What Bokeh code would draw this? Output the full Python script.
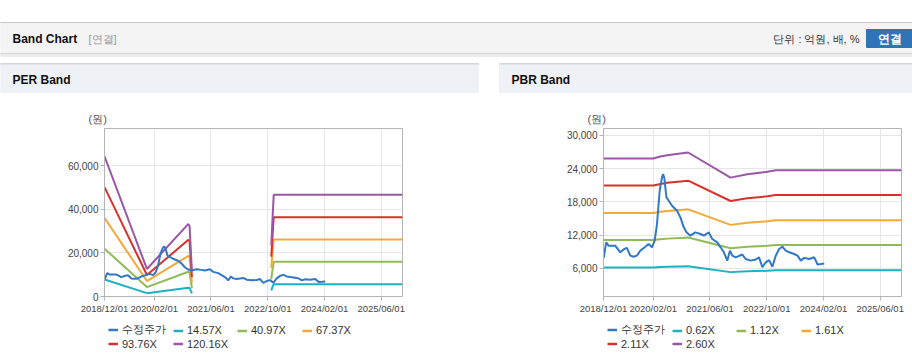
import numpy as np
import pandas as pd
from bokeh.plotting import figure
from bokeh.models import (Range1d, FixedTicker, DatetimeTickFormatter, NumeralTickFormatter,
                          Legend, LegendItem, Spacer)
from bokeh.layouts import column, row
from bokeh.embed import file_html
from bokeh.resources import INLINE
from bokeh.core.properties import value

FONT = "Liberation Sans"
NAN = float("nan")

# ---------------- data ----------------
x_start = "2018-12-01"
x_end = "2025-12-01"
x_ticks = ["2018-12-01", "2020-02-01", "2021-06-01", "2022-10-01", "2024-02-01", "2025-06-01"]

price_label = "수정주가"
price_dates = ["2018-12-03", "2018-12-24", "2019-01-13", "2019-03-11", "2019-04-24", "2019-05-28",
               "2019-06-20", "2019-07-19", "2019-08-16", "2019-09-14", "2019-10-13", "2019-11-25",
               "2019-12-23", "2020-01-21", "2020-02-13", "2020-03-04", "2020-03-27", "2020-04-16",
               "2020-04-25", "2020-05-06", "2020-05-24", "2020-06-13", "2020-07-11", "2020-08-23",
               "2020-09-21", "2020-10-20", "2020-11-12", "2020-12-16", "2021-01-28", "2021-03-12",
               "2021-04-10", "2021-05-23", "2021-06-21", "2021-08-03", "2021-09-01", "2021-09-29",
               "2021-10-28", "2021-11-20", "2021-12-10", "2022-01-08", "2022-03-06", "2022-04-04",
               "2022-05-17", "2022-06-29", "2022-07-28", "2022-08-25", "2022-09-23", "2022-10-22",
               "2022-11-19", "2022-12-18", "2023-01-16", "2023-02-13", "2023-03-14", "2023-04-12",
               "2023-05-25", "2023-06-23", "2023-07-21", "2023-08-19", "2023-10-01", "2023-11-13",
               "2023-12-12", "2024-01-10", "2024-02-07"]
price = [7900, 10700, 10100, 10100, 8900, 9500, 9700, 8300, 8100, 8300, 9200, 9900,
         10400, 9800, 11000, 14000, 20000, 22400, 23000, 22300, 18800, 18200, 17300, 16400,
         15200, 13400, 12500, 11900, 12500, 12200, 11900, 12500, 11300, 10700, 9800, 8900,
         7400, 9200, 8300, 8000, 8500, 7700, 7400, 7600, 8000, 6200, 7100, 7500,
         6300, 8300, 9500, 9900, 9200, 8900, 8600, 8300, 7400, 7900, 7700, 8000,
         6700, 6800, 6900]

per_labels = ["14.57X", "40.97X", "67.37X", "93.76X", "120.16X"]
per_dates = ["2018-12-01", "2019-11-30", "2020-11-20", "2020-11-30", "2020-12-20",
             "2021-12-01", "2022-11-01", "2022-11-12", "2022-11-22", "2025-12-01"]
per_14_57 = [7795, 1530, 4036, 3905, 1384, NAN, 2841, 4371, 5653, 5653]
per_40_97 = [21920, 4302, 11350, 10980, 3892, NAN, 7989, 12290, 15900, 15900]
per_67_37 = [36040, 7074, 18660, 18060, 6400, NAN, 13140, 20210, 26140, 26140]
per_93_76 = [50160, 9845, 25970, 25130, 8907, NAN, 18280, 28130, 36380, 36380]
per_120_16 = [64290, 12620, 33280, 32200, 11420, NAN, 23430, 36050, 46620, 46620]
per_yticks = [0, 20000, 40000, 60000]

pbr_labels = ["0.62X", "1.12X", "1.61X", "2.11X", "2.60X"]
pbr_dates = ["2018-12-01", "2020-02-01", "2020-04-02", "2020-06-01", "2020-09-20", "2020-11-26",
             "2021-11-25", "2022-04-18", "2022-10-07", "2022-12-18", "2025-12-01"]
pbr_0_62 = [6152, 6152, 6237, 6293, 6367, 6411, 5332, 5481, 5580, 5648, 5648]
pbr_1_12 = [11114, 11114, 11267, 11368, 11502, 11581, 9632, 9901, 10080, 10203, 10203]
pbr_1_61 = [15976, 15976, 16197, 16342, 16535, 16647, 13846, 14232, 14490, 14667, 14667]
pbr_2_11 = [20938, 20938, 21227, 21417, 21670, 21817, 18146, 18652, 18990, 19222, 19222]
pbr_2_60 = [25800, 25800, 26156, 26390, 26702, 26884, 22360, 22984, 23400, 23686, 23686]
pbr_yticks = [6000, 12000, 18000, 24000, 30000]

band_colors = ["#1db1c4", "#8fbb57", "#f3a83b", "#d6322b", "#9a57a6"]
price_color = "#3178c6"


def dt(lst):
    return pd.to_datetime(lst)


def ms(s):
    return pd.Timestamp(s).value / 1e6


def plain(f):
    f.axis.visible = False
    f.grid.visible = False
    f.outline_line_color = None
    f.background_fill_color = "white"
    f.border_fill_color = "white"
    return f


# ---------------- header + panel title bars (one decorative figure) ----------------
hdr = plain(figure(width=912, height=93, x_range=Range1d(0, 912), y_range=Range1d(93, 0),
                   output_backend="svg", toolbar_location=None, min_border=0))

hdr.quad(left=[0], right=[912], top=[22], bottom=[23], color="#c8c8c8")
hdr.quad(left=[0], right=[912], top=[23], bottom=[53], color="#f4f4f4")
hdr.quad(left=[0], right=[912], top=[53], bottom=[54], color="#d4d4d4")
hdr.quad(left=[0], right=[912], top=[54], bottom=[56], color="#ececec")
hdr.text(x=[12], y=[38.5], text=["Band Chart"], text_font=value(FONT), text_font_size="12px",
         text_font_style="bold", text_baseline="middle", text_color="#111111")
hdr.text(x=[88], y=[38.5], text=["[연결]"], text_font=value(FONT), text_font_size="11px",
         text_baseline="middle", text_color="#999999")
hdr.text(x=[859], y=[38.5], text=["단위 : 억원, 배, %"], text_font=value(FONT), text_font_size="11px",
         text_baseline="middle", text_align="right", text_color="#333333")
hdr.quad(left=[866], right=[912], top=[29], bottom=[47], color="#2f73b8")
hdr.text(x=[889], y=[38.5], text=["연결"], text_font=value(FONT), text_font_size="12px",
         text_font_style="bold", text_baseline="middle", text_align="center", text_color="white")

for x0, x1, label in [(0, 478, "PER Band"), (499, 912, "PBR Band")]:
    hdr.quad(left=[x0], right=[x1], top=[63], bottom=[64.5], color="#d6d6d6")
    hdr.quad(left=[x0], right=[x1], top=[64.5], bottom=[93], color="#eef2f7")
    hdr.text(x=[x0 + 12], y=[79.5], text=[label], text_font=value(FONT), text_font_size="12px",
             text_font_style="bold", text_baseline="middle", text_color="#111111")


# ---------------- charts ----------------
def chart(width, br, yr, yticks, band_dates, bands):
    p = figure(width=width, height=225, x_axis_type="datetime",
               x_range=Range1d(dt([x_start])[0], dt([x_end])[0]), y_range=Range1d(*yr),
               frame_width=298, frame_height=168,
               min_border_left=104, min_border_right=br, min_border_top=35, min_border_bottom=22,
               output_backend="svg", toolbar_location=None, title="(원)")
    p.background_fill_color = "white"
    p.border_fill_color = "white"
    p.outline_line_color = "#b5b5b5"
    p.title.align = "left"
    p.title.offset = -16
    p.title.text_font = FONT
    p.title.text_font_size = "11px"
    p.title.text_font_style = "normal"
    p.title.text_color = "#555555"
    p.title.standoff = 7

    p.xaxis.ticker = FixedTicker(ticks=[ms(t) for t in x_ticks])
    fmt = "%Y/%m/%d"
    p.xaxis.formatter = DatetimeTickFormatter(microseconds=fmt, milliseconds=fmt, seconds=fmt,
                                              minsec=fmt, minutes=fmt, hourmin=fmt, hours=fmt,
                                              days=fmt, months=fmt, years=fmt)
    p.yaxis.ticker = FixedTicker(ticks=yticks)
    p.yaxis.formatter = NumeralTickFormatter(format="0,0")
    for ax in (p.xaxis[0], p.yaxis[0]):
        ax.axis_line_color = "#b5b5b5"
        ax.major_tick_line_color = "#b5b5b5"
        ax.major_tick_out = 4
        ax.major_tick_in = 0
        ax.minor_tick_line_color = None
        ax.major_label_text_font = FONT
        ax.major_label_text_color = "#444444"
    p.xaxis.major_label_text_font_size = "9.5px"
    p.yaxis.major_label_text_font_size = "10px"
    p.xaxis.major_label_standoff = 2
    p.yaxis.major_label_standoff = 2
    p.grid.grid_line_color = "#e6e6e6"

    bd = dt(band_dates)
    for vals, c in zip(bands, band_colors):
        p.line(bd, np.array(vals, dtype=float), line_color=c, line_width=2)
    p.line(dt(price_dates), price, line_color=price_color, line_width=2)
    return p


def legend_fig(width, br, labels, band_dates, bands):
    # legend-only strip: the series are re-plotted here outside the visible range so that
    # each legend entry has a renderer with data; only the legend itself shows.
    f = plain(figure(width=width, height=45, x_range=Range1d(0, 1), y_range=Range1d(0, 1),
                     frame_width=298, frame_height=45,
                     min_border_left=104, min_border_right=br, min_border_top=0, min_border_bottom=0,
                     output_backend="svg", toolbar_location=None))
    names = [price_label] + labels
    colors = [price_color] + band_colors
    series = [(dt(price_dates), price)] + [(dt(band_dates), np.array(b, dtype=float)) for b in bands]
    slots = [(4, 26.5), (69, 26.5), (133, 26.5), (198, 26.5), (4, 13), (69, 13)]
    for name, c, (xs, ys), loc in zip(names, colors, series, slots):
        r = f.line(xs, ys, line_color=c, line_width=2.5)
        leg = Legend(items=[LegendItem(label=name, renderers=[r])], location=loc,
                     orientation="horizontal", glyph_width=10, glyph_height=13, label_height=13,
                     label_standoff=4, spacing=0, padding=0, margin=0,
                     label_text_font=FONT, label_text_font_size="11px",
                     label_text_color="#333333", border_line_color=None,
                     background_fill_alpha=0)
        f.add_layout(leg, "center")
    return f


per_bands = [per_14_57, per_40_97, per_67_37, per_93_76, per_120_16]
pbr_bands = [pbr_0_62, pbr_1_12, pbr_1_61, pbr_2_11, pbr_2_60]
per = chart(478, 76, (0, 77000), per_yticks, per_dates, per_bands)
pbr = chart(413, 11, (940, 31210), pbr_yticks, pbr_dates, pbr_bands)
per_leg = legend_fig(478, 76, per_labels, per_dates, per_bands)
pbr_leg = legend_fig(413, 11, pbr_labels, pbr_dates, pbr_bands)

layout = column(hdr,
                row(column(per, per_leg, spacing=0), Spacer(width=21, height=270),
                    column(pbr, pbr_leg, spacing=0), spacing=0),
                spacing=0)

open("out.html", "w").write(file_html(layout, INLINE))
